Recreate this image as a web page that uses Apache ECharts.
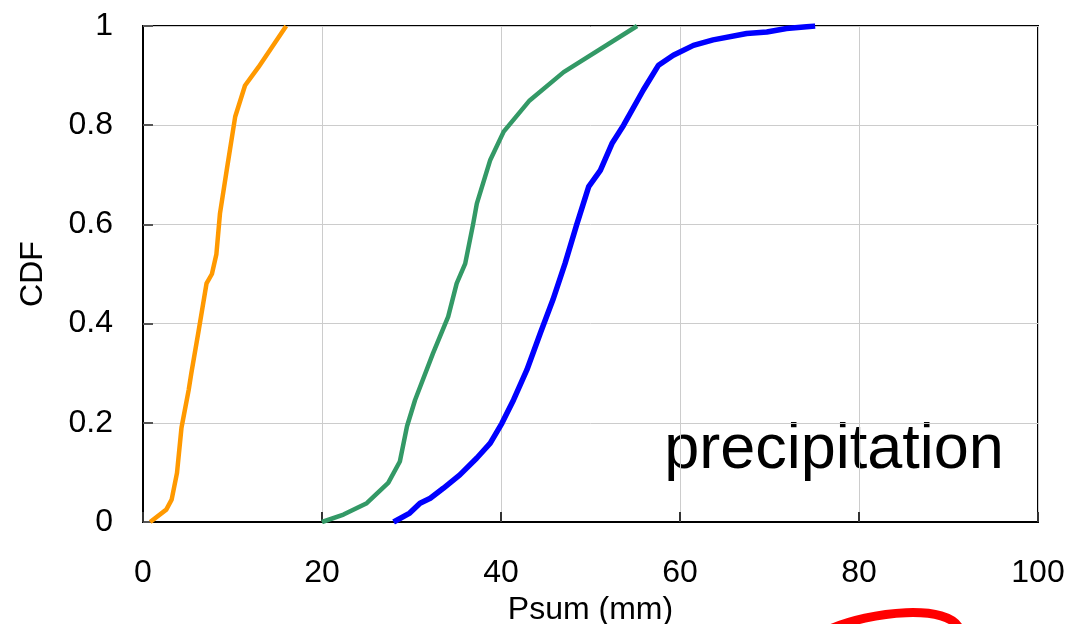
<!DOCTYPE html>
<html>
<head>
<meta charset="utf-8">
<script src="https://cdn.jsdelivr.net/npm/echarts@6/dist/echarts.min.js"></script>
<style>
  html, body { margin: 0; padding: 0; background: #fff; }
  #chart { width: 1072px; height: 624px; }
</style>
</head>
<body>
<div id="chart"></div>
<script>
// Empirical CDFs of summed precipitation, [Psum (mm), CDF]
const orangeCdf = [
  [0.8, 0.0], [2.6, 0.025], [3.2, 0.045], [3.8, 0.099], [4.3, 0.19],
  [5.1, 0.266], [5.4, 0.30], [6.2, 0.384], [7.1, 0.481], [7.7, 0.50],
  [8.2, 0.54], [8.6, 0.622], [9.35, 0.709], [10.3, 0.817], [11.4, 0.88],
  [12.9, 0.917], [16.0, 1.0]
];
const greenCdf = [
  [20.0, 0.0], [22.4, 0.015], [25.0, 0.038], [27.4, 0.079], [28.7, 0.122],
  [29.5, 0.193], [30.4, 0.246], [32.4, 0.34], [34.1, 0.414], [35.05, 0.481],
  [36.0, 0.521], [36.9, 0.602], [37.3, 0.642], [38.8, 0.73], [40.3, 0.787],
  [43.2, 0.85], [47.0, 0.907], [55.2, 1.0]
];
const blueCdf = [
  [28.0, 0.0], [29.8, 0.018], [30.95, 0.038], [32.1, 0.048], [33.55, 0.068],
  [35.4, 0.095], [37.3, 0.129], [38.8, 0.159], [40.1, 0.199], [41.4, 0.246],
  [42.9, 0.307], [44.4, 0.381], [45.8, 0.448], [47.15, 0.521], [48.45, 0.599],
  [49.8, 0.676], [51.1, 0.709], [52.4, 0.763], [53.7, 0.80], [55.9, 0.871],
  [57.6, 0.921], [59.25, 0.941], [61.5, 0.961], [63.7, 0.972], [67.45, 0.985],
  [69.7, 0.988], [71.9, 0.995], [75.1, 1.0]
];
const seriesColors = ['#FF9900', '#339966', '#0000FF'];
const xName = 'Psum (mm)';
const yName = 'CDF';
const panelLabel = 'precipitation';

const chart = echarts.init(document.getElementById('chart'), null, { renderer: 'canvas' });
const font = 'Liberation Sans, Arial, sans-serif';

function lineSeries(data, color, width) {
  return {
    type: 'line', data: data, showSymbol: false, symbol: 'none',
    smooth: false, animation: false,
    lineStyle: { color: color, width: width, join: 'round' }
  };
}

chart.setOption({
  backgroundColor: '#fff',
  animation: false,
  grid: {
    left: 143, right: 34, top: 26, bottom: 102,
    containLabel: false, outerBoundsMode: 'none',
    show: true, borderColor: '#000', borderWidth: 2, backgroundColor: 'transparent'
  },
  xAxis: {
    type: 'value', min: 0, max: 100, interval: 20,
    name: xName, nameLocation: 'middle', nameGap: 65,
    nameTextStyle: { color: '#000', fontSize: 32, fontFamily: font },
    axisLine: { show: true, onZero: false, lineStyle: { color: '#000', width: 2 } },
    axisTick: { show: true, inside: true, length: 10, lineStyle: { color: '#333', width: 2 } },
    axisLabel: { color: '#000', fontSize: 32, fontFamily: font, margin: 35 },
    splitLine: { show: true, lineStyle: { color: '#cccccc', width: 1 } }
  },
  yAxis: {
    type: 'value', min: 0, max: 1, interval: 0.2,
    name: yName, nameLocation: 'middle', nameGap: 94, nameRotate: 90,
    nameTextStyle: { color: '#000', fontSize: 32, fontFamily: font },
    axisLine: { show: true, onZero: false, lineStyle: { color: '#000', width: 2 } },
    axisTick: { show: true, inside: true, length: 10, lineStyle: { color: '#555', width: 2 } },
    axisLabel: { color: '#000', fontSize: 32, fontFamily: font, margin: 30 },
    splitLine: { show: true, lineStyle: { color: '#cccccc', width: 1 } }
  },
  series: [
    lineSeries(orangeCdf, seriesColors[0], 4.5),
    lineSeries(greenCdf, seriesColors[1], 4.5),
    lineSeries(blueCdf, seriesColors[2], 5.5)
  ],
  graphic: [
    {
      type: 'group', z: 5,
      children: [
        { type: 'rect', shape: { x: 642, y: 398, width: 395, height: 97 },
          style: { fill: '#fff' } },
        { type: 'text', x: 834, y: 451,
          style: { text: panelLabel, font: '63px ' + font, fill: '#000',
                   textAlign: 'center', textVerticalAlign: 'middle' } }
      ]
    },
    {
      type: 'bezierCurve', z: 6,
      shape: { x1: 828, y1: 630, cpx1: 870, cpy1: 611, cpx2: 950, cpy2: 603, x2: 960, y2: 630 },
      style: { stroke: '#FF0000', lineWidth: 9, fill: null, lineCap: 'round' }
    }
  ]
});
</script>
</body>
</html>
